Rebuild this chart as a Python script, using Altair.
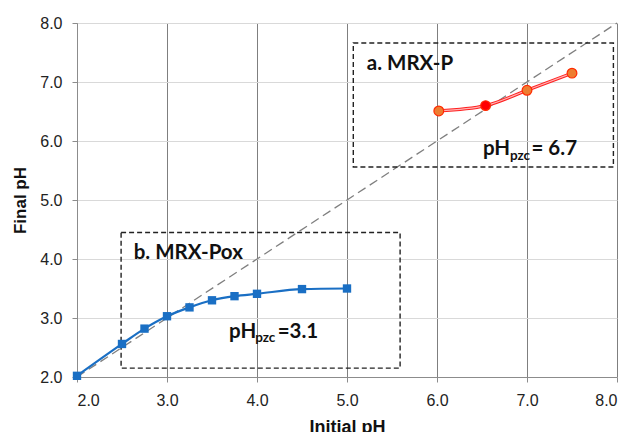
import altair as alt
import pandas as pd

# MRX-Pox (blue squares)
pox_x = [2.0, 2.5, 2.75, 3.0, 3.25, 3.5, 3.75, 4.0, 4.5, 5.0]
pox_y = [2.02, 2.56, 2.82, 3.03, 3.18, 3.30, 3.37, 3.41, 3.49, 3.50]

# MRX-P (orange circles)
p_x = [6.02, 6.54, 7.0, 7.5]
p_y = [6.51, 6.60, 6.86, 7.15]
p_fill = ["#ED7D31", "#FF0000", "#ED7D31", "#ED7D31"]

# 1:1 reference line
diag_x = [2.0, 8.0]
diag_y = [2.0, 8.0]

# dashed boxes
box_x = [5.07, 2.49]
box_x2 = [7.96, 5.59]
box_y = [5.56, 2.15]
box_y2 = [7.66, 4.45]

# annotations
ann_text = ["a. MRX-P", "pH", "pzc", "= 6.7", "b. MRX-Pox", "pH", "pzc", "=3.1"]
ann_x = [5.22, 6.51, 6.81, 7.05, 2.63, 3.69, 3.98, 4.23]
ann_y = [7.20, 5.76, 5.68, 5.76, 4.00, 2.66, 2.59, 2.66]
ann_size = [20.5, 20.5, 13.5, 20.5, 20.5, 20.5, 13.5, 20.5]

ticks = [2, 3, 4, 5, 6, 7, 8]

pox = pd.DataFrame({"x": pox_x, "y": pox_y})
pp = pd.DataFrame({"x": p_x, "y": p_y, "fill": p_fill})
diag = pd.DataFrame({"x": diag_x, "y": diag_y})
boxes = pd.DataFrame({"x": box_x, "x2": box_x2, "y": box_y, "y2": box_y2})
ann = pd.DataFrame({"x": ann_x, "y": ann_y, "t": ann_text, "s": ann_size})

xs = alt.Scale(domain=[2, 8], nice=False, zero=False)
ys = alt.Scale(domain=[2, 8], nice=False, zero=False)

xaxis = alt.Axis(values=ticks, format=".1f", title="Initial pH", grid=True,
                 gridColor="#7f7f7f", gridWidth=1, domainColor="#8c8c8c",
                 tickColor="#8c8c8c", tickSize=5, labelFontSize=16,
                 labelColor="#222222", labelFont="Liberation Sans",
                 titleFont="Liberation Sans", titleFontSize=18, titleFontWeight="bold",
                 titleColor="#111111", labelPadding=10,
                 titleY=55, titleBaseline="alphabetic")
yaxis = alt.Axis(values=ticks, format=".1f", title="Final pH", grid=True,
                 gridColor="#d9d9d9", gridWidth=1, domainColor="#8c8c8c",
                 tickColor="#8c8c8c", tickSize=5, labelFontSize=16,
                 labelColor="#222222", labelFont="Liberation Sans",
                 titleFont="Liberation Sans", titleFontSize=17, titleFontWeight="bold",
                 titleColor="#111111", labelPadding=10,
                 titleX=-52, titleBaseline="alphabetic")

base_x = alt.X("x:Q", scale=xs, axis=xaxis)
base_y = alt.Y("y:Q", scale=ys, axis=yaxis)

diag_line = alt.Chart(diag).mark_line(color="#7f7f7f", strokeDash=[9, 5], strokeWidth=1.3).encode(
    x=base_x, y=base_y)

box_marks = alt.Chart(boxes).mark_rect(fill=None, fillOpacity=0, stroke="#222222",
                                       strokeDash=[5, 3], strokeWidth=1.4).encode(
    x="x:Q", x2="x2:Q", y="y:Q", y2="y2:Q")

pox_line = alt.Chart(pox).mark_line(color="#1a6fc4", strokeWidth=2.2, interpolate="monotone").encode(
    x="x:Q", y="y:Q")
pox_pts = alt.Chart(pox).mark_point(shape="square", filled=True, color="#1a6fc4", size=70, opacity=1).encode(
    x="x:Q", y="y:Q")

p_line_out = alt.Chart(pp).mark_line(color="#ff2020", strokeWidth=3.2, interpolate="monotone").encode(
    x="x:Q", y="y:Q")
p_line_in = alt.Chart(pp).mark_line(color="#ffb3b3", strokeWidth=1.2, interpolate="monotone").encode(
    x="x:Q", y="y:Q")
p_pts = alt.Chart(pp).mark_point(shape="circle", filled=True, size=95, stroke="#ff2a00",
                                 strokeWidth=1.2, opacity=1).encode(
    x="x:Q", y="y:Q", fill=alt.Fill("fill:N", scale=None))

ann_marks = alt.Chart(ann).mark_text(align="left", baseline="alphabetic", fontWeight="bold",
                                     font="Lato", color="#111111").encode(
    x="x:Q", y="y:Q", text="t:N", size=alt.Size("s:Q", scale=None))

chart = alt.layer(diag_line, box_marks, pox_line, pox_pts, p_line_out, p_line_in, p_pts, ann_marks).properties(
    width=540, height=354,
    autosize=alt.AutoSizeParams(type="none"),
    padding={"left": 77, "top": 23, "right": 15, "bottom": 55},
).configure_view(stroke=None).configure(background="white")

chart.save("out.html", embed_options={"renderer": "svg", "actions": False})
